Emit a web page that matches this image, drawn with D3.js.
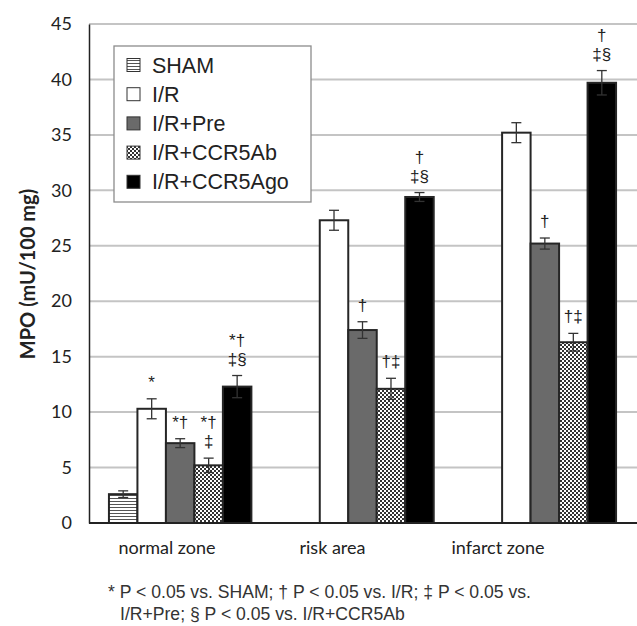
<!DOCTYPE html>
<html>
<head>
<meta charset="utf-8">
<script src="https://cdn.jsdelivr.net/npm/d3@7"></script>
<style>
  body { margin: 0; background: #fff; }
  svg { display: block; }
</style>
</head>
<body>
<svg id="chart" width="637" height="626"></svg>
<script>
// data
var categories = ["normal zone", "risk area", "infarct zone"];
var groups = ["SHAM", "I/R", "I/R+Pre", "I/R+CCR5Ab", "I/R+CCR5Ago"];
// one row per group, one value per category
var means = [
    [2.6, 0, 0],
    [10.3, 27.3, 35.2],
    [7.2, 17.4, 25.2],
    [5.2, 12.1, 16.3],
    [12.3, 29.4, 39.7]
];
var errors = [
    [0.3, 0, 0],
    [0.9, 0.9, 0.9],
    [0.4, 0.75, 0.5],
    [0.65, 0.95, 0.8],
    [1.0, 0.4, 1.1]
];
var marks = [
    [[], [], []],
    [["*"], [], []],
    [["*\u2020"], ["\u2020"], ["\u2020"]],
    [["*\u2020", "\u2021"], ["\u2020\u2021"], ["\u2020\u2021"]],
    [["*\u2020", "\u2021\u00a7"], ["\u2020", "\u2021\u00a7"], ["\u2020", "\u2021\u00a7"]]
];
var yTicks = [0, 5, 10, 15, 20, 25, 30, 35, 40, 45];
var yLabel = "MPO (mU/100 mg)";
var footnote = [
    "* P < 0.05 vs. SHAM; \u2020 P < 0.05 vs. I/R; \u2021 P < 0.05 vs.",
    "I/R+Pre; \u00a7 P < 0.05 vs. I/R+CCR5Ab"
];

var svg = d3.select("#chart");

// fill patterns
var defs = svg.append("defs");
var stripes = defs.append("pattern")
    .attr("id", "stripes")
    .attr("patternUnits", "userSpaceOnUse")
    .attr("width", 4)
    .attr("height", 3);
stripes.append("rect").attr("width", 4).attr("height", 3).attr("fill", "#fff");
stripes.append("rect").attr("y", 0).attr("width", 4).attr("height", 1).attr("fill", "#555");

var checks = defs.append("pattern")
    .attr("id", "checks")
    .attr("patternUnits", "userSpaceOnUse")
    .attr("width", 4)
    .attr("height", 4);
checks.append("rect").attr("width", 4).attr("height", 4).attr("fill", "#fff");
checks.append("rect").attr("width", 2).attr("height", 2).attr("fill", "#333");
checks.append("rect").attr("x", 2).attr("y", 2).attr("width", 2).attr("height", 2).attr("fill", "#333");

var fills = ["url(#stripes)", "#fff", "#6a6a6a", "url(#checks)", "#000"];

var x0 = d3.scaleBand()
    .domain(categories)
    .range([89, 636]);

var x1 = d3.scaleBand()
    .domain(groups)
    .range([0, x0.bandwidth()])
    .paddingOuter(0.7);

// the category labels sit a little left of the groups in the original
var xLabel = d3.scalePoint()
    .domain(categories)
    .range([167, 498]);

var y = d3.scaleLinear()
    .domain([0, 45])
    .range([523, 24]);

// gridlines
svg.append("g")
    .selectAll("line")
    .data(yTicks.filter(function (d) { return d > 0; }))
    .enter()
    .append("line")
    .attr("x1", 89)
    .attr("x2", 637)
    .attr("y1", function (d) { return y(d); })
    .attr("y2", function (d) { return y(d); })
    .attr("stroke", "#c4c4c4")
    .attr("stroke-width", 2);

// y axis
var yAxis = svg.append("g")
    .attr("transform", "translate(89,0)")
    .call(d3.axisLeft(y).tickValues(yTicks).tickSize(0).tickPadding(17));
yAxis.select(".domain").attr("stroke", "#222").attr("stroke-width", 1.5);
yAxis.selectAll("text")
    .attr("font-family", "Lato, sans-serif")
    .attr("font-size", "18px")
    .attr("fill", "#222");

svg.append("text")
    .attr("transform", "translate(35,274) rotate(-90)")
    .attr("text-anchor", "middle")
    .attr("font-family", "Lato, sans-serif")
    .attr("font-weight", "bold")
    .attr("font-size", "20px")
    .attr("fill", "#222")
    .text(yLabel);

// bars
var cells = [];
groups.forEach(function (g, gi) {
    categories.forEach(function (c, ci) {
        cells.push({ group: g, gi: gi, cat: c, value: means[gi][ci], err: errors[gi][ci], marks: marks[gi][ci] });
    });
});
var shown = cells.filter(function (d) { return d.value > 0; });

var bars = svg.append("g");
bars.selectAll("rect")
    .data(shown)
    .enter()
    .append("rect")
    .attr("x", function (d) { return x0(d.cat) + x1(d.group); })
    .attr("y", function (d) { return y(d.value); })
    .attr("width", x1.bandwidth())
    .attr("height", function (d) { return y(0) - y(d.value); })
    .attr("fill", function (d) { return fills[d.gi]; })
    .attr("stroke", "#262626")
    .attr("stroke-width", 2);

// error bars
var eb = svg.append("g")
    .attr("stroke", "#333")
    .attr("stroke-width", 1.3);
shown.forEach(function (d) {
    var cx = x0(d.cat) + x1(d.group) + x1.bandwidth() / 2;
    eb.append("line")
        .attr("x1", cx).attr("x2", cx)
        .attr("y1", y(d.value - d.err)).attr("y2", y(d.value + d.err));
    [d.value - d.err, d.value + d.err].forEach(function (v) {
        eb.append("line")
            .attr("x1", cx - 5).attr("x2", cx + 5)
            .attr("y1", y(v)).attr("y2", y(v));
    });
});

// significance marks
var sig = svg.append("g")
    .attr("font-family", "Liberation Sans, Arial, sans-serif")
    .attr("font-size", "17px")
    .attr("fill", "#222")
    .attr("text-anchor", "middle");
shown.forEach(function (d) {
    var cx = x0(d.cat) + x1(d.group) + x1.bandwidth() / 2;
    var n = d.marks.length;
    d.marks.forEach(function (m, i) {
        sig.append("text")
            .attr("x", cx)
            .attr("y", y(d.value + d.err) - 11 - (n - 1 - i) * 19)
            .text(m);
    });
});

// x axis
svg.append("line")
    .attr("x1", 89)
    .attr("x2", 637)
    .attr("y1", y(0))
    .attr("y2", y(0))
    .attr("stroke", "#222")
    .attr("stroke-width", 2);

svg.append("g")
    .selectAll("text")
    .data(categories)
    .enter()
    .append("text")
    .attr("x", function (d) { return xLabel(d); })
    .attr("y", 554)
    .attr("text-anchor", "middle")
    .attr("font-family", "Lato, sans-serif")
    .attr("font-size", "18px")
    .attr("fill", "#222")
    .text(function (d) { return d; });

// legend
var legend = svg.append("g");
legend.append("rect")
    .attr("x", 114)
    .attr("y", 46)
    .attr("width", 197)
    .attr("height", 156)
    .attr("fill", "#fff")
    .attr("stroke", "#8c8c8c")
    .attr("stroke-width", 1.3);

groups.forEach(function (g, i) {
    var cy = 65 + i * 29.2;
    legend.append("rect")
        .attr("x", 127)
        .attr("y", cy - 6.5)
        .attr("width", 13)
        .attr("height", 13)
        .attr("fill", fills[i])
        .attr("stroke", "#333")
        .attr("stroke-width", 1);
    legend.append("text")
        .attr("x", 152)
        .attr("y", cy + 7.5)
        .attr("font-family", "Liberation Sans, Arial, sans-serif")
        .attr("font-size", "21.5px")
        .attr("fill", "#222")
        .text(g);
});

// footnote
svg.append("g")
    .selectAll("text")
    .data(footnote)
    .enter()
    .append("text")
    .attr("x", function (d, i) { return i === 0 ? 108 : 120; })
    .attr("y", function (d, i) { return 598 + i * 21.5; })
    .attr("font-family", "Liberation Sans, Arial, sans-serif")
    .attr("font-size", "17.6px")
    .attr("fill", "#333")
    .text(function (d) { return d; });
</script>
</body>
</html>
